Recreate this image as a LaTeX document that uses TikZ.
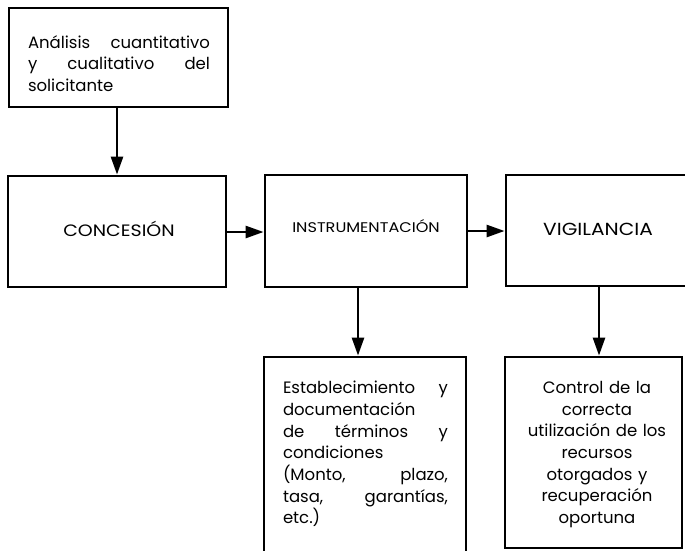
\documentclass[tikz,border=0pt]{standalone}
\usepackage{fontspec}
\setmainfont{Poppins}
\newfontfamily\lblfont{Poppins}[FakeStretch=1.15]
\usetikzlibrary{arrows.meta}
\hyphenpenalty=10000
\exhyphenpenalty=10000
\begin{document}
\begin{tikzpicture}[x=1pt,y=-1pt,
  box/.style={draw, line width=2.8pt, inner sep=0pt},
  lbl/.style={font=\lblfont\fontsize{16.5}{18}\selectfont, inner sep=0pt, anchor=base},
  body/.style={font=\fontsize{16.5}{21.7}\selectfont, inner sep=0pt, anchor=north},
  arr/.style={line width=2.6pt, -{Triangle[length=18pt,width=12pt]}}]
\useasboundingbox[fill=white] (0,0) rectangle (685,550);
% boxes
\node[box, minimum width=219pt, minimum height=99pt] (A) at (118.5,57.5) {};
\node[box, minimum width=218pt, minimum height=111pt] (B) at (117,231.5) {};
\node[box, minimum width=202pt, minimum height=112pt] (C) at (366,231) {};
\node[box, minimum width=184pt, minimum height=111pt] (D) at (598,230.5) {};
\node[box, minimum width=202pt, minimum height=203pt] (E) at (365,458.5) {};
\node[box, minimum width=177pt, minimum height=191pt] (F) at (593.5,452.5) {};
% labels
\node[lbl] (tB) at (119,236) {CONCESIÓN};
\node[lbl, font=\lblfont\fontsize{14}{16}\selectfont] (tC) at (366,232) {INSTRUMENTACIÓN};
\node[lbl, font=\lblfont\fontsize{17.5}{18}\selectfont] (tD) at (598,235.5) {VIGILANCIA};
\node[body, text width=182pt, align=left] (tA) at (119,35)
  {Análisis\hfill cuantitativo\\ y\hfill cualitativo\hfill del\\ solicitante};
\node[body, text width=165pt, align=left] (tE) at (365.5,381)
  {Establecimiento\hfill y\\ documentación\\ de\hfill términos\hfill y\\ condiciones\\ (Monto,\hfill plazo,\\ tasa,\hfill garantías,\\ etc.)};
\node[body, text width=170pt, align=center] (tF) at (597,381)
  {Control de la\\ correcta\\ utilización de los\\ recursos\\ otorgados y\\ recuperación\\ oportuna};
% connectors
\coordinate (a1) at (117,107);
\coordinate (c1) at (358,287);
\coordinate (d1) at (599,286);
\coordinate (b1) at (226,232);
\coordinate (c2) at (467,231);
\draw[arr] (a1) -- (a1 |- B.north);
\draw[arr] (b1) -- (b1 -| C.west);
\draw[arr] (c2) -- (c2 -| D.west);
\draw[arr] (c1) -- (c1 |- E.north);
\draw[arr] (d1) -- (d1 |- F.north);
\end{tikzpicture}
\end{document}
